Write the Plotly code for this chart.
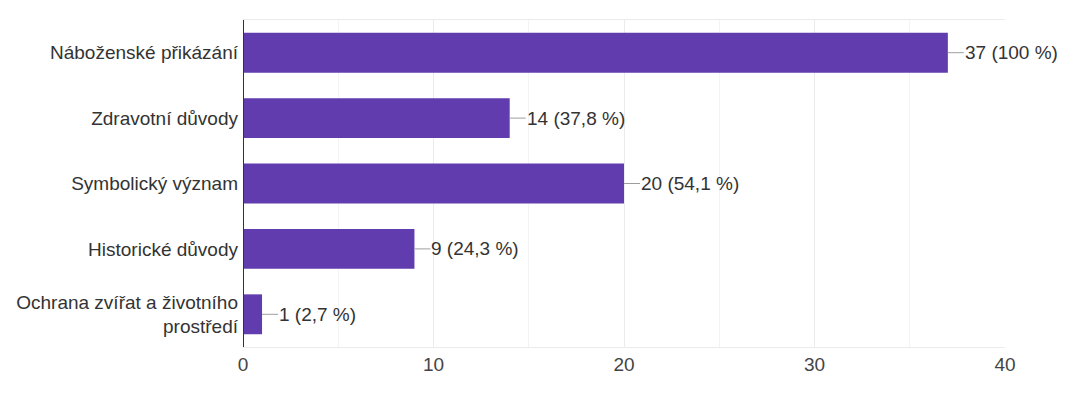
import plotly.graph_objects as go

categories = ["Náboženské přikázání", "Zdravotní důvody", "Symbolický význam",
              "Historické důvody", "Ochrana zvířat a životního<br>prostředí"]
values = [37, 14, 20, 9, 1]
labels = ["37 (100 %)", "14 (37,8 %)", "20 (54,1 %)", "9 (24,3 %)", "1 (2,7 %)"]
tick_vals = [0, 10, 20, 30, 40]

FONT = "Liberation Sans, Arial, sans-serif"
FS = 19

fig = go.Figure()
fig.add_trace(go.Bar(
    y=categories, x=values, orientation="h",
    marker=dict(color="#603cae", line=dict(width=0)),
    width=0.61, hoverinfo="skip",
))
for c, v, t in zip(categories, values, labels):
    fig.add_annotation(
        x=v, y=c, text=t, showarrow=True, arrowhead=0, arrowwidth=1,
        arrowcolor="#9e9e9e", ax=16, ay=0, xanchor="left", standoff=0,
        borderpad=0, font=dict(size=FS, color="#333333", family=FONT),
    )

fig.update_layout(
    width=1067, height=387,
    margin=dict(l=235, r=70, t=12, b=48),
    paper_bgcolor="white", plot_bgcolor="white",
    font=dict(family=FONT, size=FS, color="#333333"),
    showlegend=False,
)
fig.update_xaxes(
    range=[0, 40], tickvals=tick_vals, showgrid=True, gridcolor="#ebebeb",
    gridwidth=1, zeroline=False, showline=True, linecolor="#ebebeb",
    mirror=True, ticks="", ticklen=0, automargin=False,
    tickfont=dict(size=FS, color="#444444"),
    minor=dict(dtick=5, showgrid=True, gridcolor="#f4f4f4", gridwidth=1),
)
fig.update_yaxes(
    autorange="reversed", showline=False, ticks="", showgrid=False,
    automargin=False, ticklabelstandoff=4,
    tickfont=dict(size=FS, color="#333333"),
)
fig.add_shape(type="line", xref="x", yref="paper", x0=0, x1=0, y0=0, y1=1,
              line=dict(color="#333333", width=2))

fig.write_html("out.html")
